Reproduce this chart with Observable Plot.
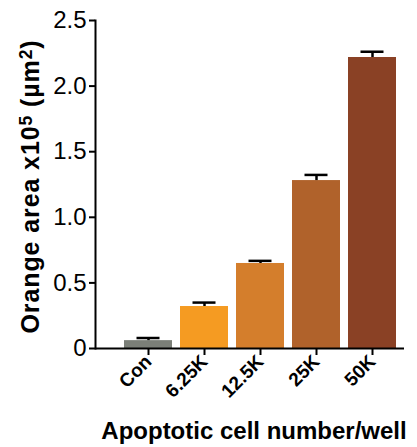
<!DOCTYPE html>
<html>
<head>
<meta charset="utf-8">
<script src="https://cdn.jsdelivr.net/npm/d3@7"></script>
<script src="https://cdn.jsdelivr.net/npm/@observablehq/plot@0.6"></script>
<style>
  html, body { margin: 0; padding: 0; background: #fff; }
</style>
</head>
<body>
<div id="chart"></div>
<script>
const categories = ["Con", "6.25K", "12.5K", "25K", "50K"];
const means = [0.06, 0.32, 0.648, 1.28, 2.218];
const upperErr = [0.08, 0.35, 0.668, 1.323, 2.262];
const colors = ["#7b7f78", "#f59b22", "#d47e2c", "#b0622b", "#8a4125"];
const yTicks = [0, 0.5, 1.0, 1.5, 2.0, 2.5];
// y title parts: [text, isSuperscript]
const yTitleParts = [["Orange area x10", false], ["5", true], [" (\u00b5m", false], ["2", true], [")", false]];
const yTitle = yTitleParts.map(p => p[0]).join("");
const xTitle = "Apoptotic cell number/well";

const data = categories.map((c, i) => ({cat: c, v: means[i], e: upperErr[i]}));

const chart = Plot.plot({
  width: 417,
  height: 447,
  marginLeft: 95,
  marginTop: 20,
  marginRight: 13,
  marginBottom: 99,
  style: {fontFamily: "'Liberation Sans', Arial, sans-serif", background: "#fff", color: "#000"},
  x: {domain: categories, range: [115, 404], padding: 0.15, label: null},
  y: {domain: [0, 2.5], label: null},
  color: {domain: categories, range: colors},
  marks: [
    Plot.barY(data, {x: "cat", y: "v", fill: "cat"}),
    Plot.ruleX(data, {x: "cat", y1: "v", y2: "e", stroke: "#000", strokeWidth: 2.5}),
    Plot.tickY(data, {x: "cat", y: "e", stroke: "#000", strokeWidth: 2.5, insetLeft: 12.5, insetRight: 12.5}),
    Plot.ruleY([0], {stroke: "#000", strokeWidth: 2}),
    Plot.frame({anchor: "left", stroke: "#000", strokeWidth: 2}),
    Plot.axisY({ticks: yTicks, tickFormat: d => d === 0 ? "0" : d.toFixed(1), fontSize: 24, tickSize: 6, tickPadding: 3, strokeWidth: 2, label: null}),
    Plot.axisX({tickRotate: -45, fontSize: 19, fontWeight: "bold", tickSize: 7, tickPadding: 3, strokeWidth: 2, label: null}),
    Plot.text([yTitle], {frameAnchor: "left", textAnchor: "middle", lineAnchor: "middle", dx: -65, dy: 2, rotate: -90, fontSize: 25, fontWeight: "bold", text: d => d, className: "ytitle"}),
    Plot.text([xTitle], {frameAnchor: "bottom", textAnchor: "middle", lineAnchor: "middle", dx: 4, dy: 83, fontSize: 24, fontWeight: "bold", text: d => d})
  ]
});
// rebuild y title with real superscripts
d3.select(chart).selectAll("g.ytitle text").each(function() {
  const t = d3.select(this);
  t.text(null).style("letter-spacing", "0.9px");
  yTitleParts.forEach(([s, sup]) => {
    const ts = t.append("tspan").text(s);
    if (sup) ts.attr("font-size", "70%").attr("baseline-shift", "40%");
  });
});
document.getElementById("chart").appendChild(chart);
</script>
</body>
</html>
